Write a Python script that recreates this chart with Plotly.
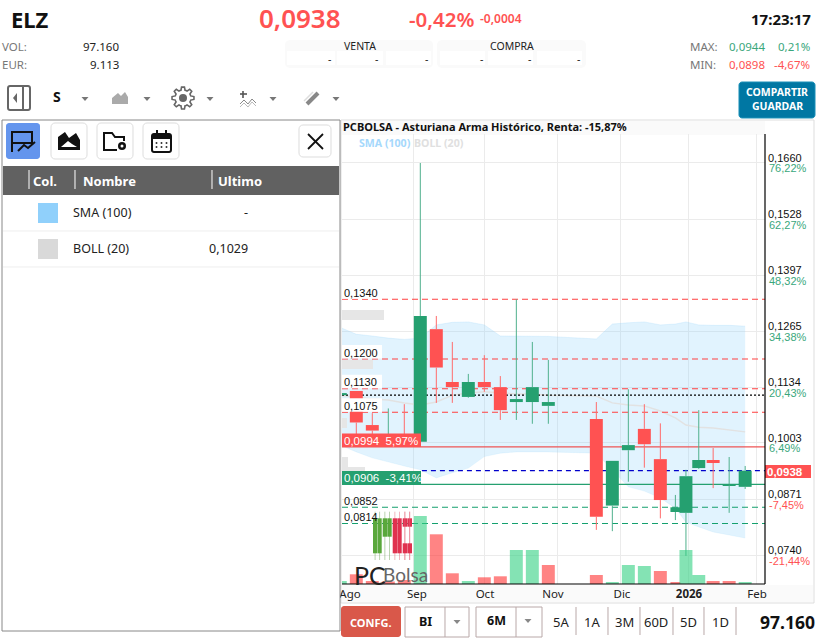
import math
import plotly.graph_objects as go

# ---------- data ----------
week_pos = [0,1,2,3,4,5,6,7,8,9,10,11,12,13,16,17,18,19,20,20.94,21.6,22.4,23.3,24.3,25.3]
open_  = [.1115,.1125,.1045,.0999,.1019,.1006,.1270,.1146,.1111,.1146,.1134,.1099,.1099,.1090,.1059,.0856,.0986,.1036,.0965,.0841,.0839,.0944,.0963,.0904,.0900]
high   = [.1120,.1125,.1073,.1084,.1094,.1660,.1301,.1240,.1165,.1209,.1160,.1340,.1240,.1198,.1099,.0961,.1129,.1094,.1049,.0881,.0940,.1080,.0991,.0970,.0949]
low    = [.1115,.1024,.1022,.0997,.0997,.1005,.1097,.1097,.1109,.1123,.1057,.1057,.1048,.1048,.0799,.0796,.0912,.0945,.0826,.0822,.0738,.0942,.0897,.0839,.0895]
close  = [.1120,.1051,.1032,.1019,.1000,.1301,.1180,.1134,.1146,.1134,.1080,.1106,.1134,.1099,.0830,.0961,.0998,.1000,.0869,.0852,.0925,.0963,.0956,.0906,.0938]
body_w = [.81]*19 + [.62] + [.81]*5
volume = [30,97,30,25,40,680,497,107,30,67,77,340,340,190,90,20,190,180,130,20,340,90,30,30,20]
vol_up = [1,0,0,0,0,1,0,0,1,0,0,1,1,0,0,1,1,1,0,0,1,1,0,0,1]
boll_up  = [.1274,.1258,.1254,.1249,.1246,.1249,.1280,.1286,.1287,.1280,.1254,.1254,.1253,.1253,.1247,.1282,.1285,.1287,.1280,.1282,.1287,.1280,.1279,.1279,.1277]
boll_mid = [.1115,.1111,.1106,.1104,.1097,.1092,.1099,.1115,.1120,.1123,.1120,.1118,.1118,.1115,.1113,.1097,.1092,.1090,.1078,.1062,.1045,.1040,.1038,.1033,.1029]
boll_low = [.0998,.0982,.0968,.0958,.0949,.0940,.0921,.0933,.0944,.0971,.0979,.0982,.0982,.0982,.0979,.0940,.0900,.0890,.0874,.0850,.0817,.0806,.0794,.0787,.0780]
resist = [.1340,.1200,.1130,.1075]
support = [.0852,.0814]
price_ticks = [.1660,.1528,.1397,.1265,.1134,.1003,.0871,.0740]
price_labels = ["0,1660","0,1528","0,1397","0,1265","0,1134","0,1003","0,0871","0,0740"]
pct_labels = ["76,22%","62,27%","48,32%","34,38%","20,43%","6,49%","-7,45%","-21,44%"]
month_labels = ["Ago","Sep","Oct","Nov","Dic","<b>2026</b>","Feb"]
month_label_pos = [.606,4.79,9.04,13.29,17.6,21.79,26.04]
month_grid_pos = [4.6,8.98,13.6,17.54,21.79,25.98]
avg_level, last_price, high_ref, low_ref = .1115,.0938,.0994,.0906

GREEN, RED = "#25a070", "#ff5252"
GWICK, RWICK = "#4fb08c", "#ff6b6b"
GRID = "#ebebeb"
UI = "Noto Sans"

X = lambda p: p/830
Y = lambda p: 1-p/643
shapes, anns = [], []

def rect(x0,y0,x1,y1,fill=None,line=None,lw=1,layer="above"):
    shapes.append(dict(type="rect",xref="paper",yref="paper",x0=X(x0),x1=X(x1),y0=Y(y0),y1=Y(y1),
        fillcolor=fill or "rgba(0,0,0,0)",line=dict(color=line or "rgba(0,0,0,0)",width=lw if line else 0),layer=layer))

def path(pts,fill=None,line=None,lw=1,close=False):
    d = "M"+" L".join(f"{X(a):.5f},{Y(b):.5f}" for a,b in pts)+(" Z" if close else "")
    shapes.append(dict(type="path",xref="paper",yref="paper",path=d,fillcolor=fill or "rgba(0,0,0,0)",
        line=dict(color=line or "rgba(0,0,0,0)",width=lw if line else 0),layer="above"))

def rrect(x0,y0,x1,y1,r=4,fill=None,line=None,lw=1):
    pts=[]
    for cx,cy,a0 in [(x1-r,y0+r,-90),(x1-r,y1-r,0),(x0+r,y1-r,90),(x0+r,y0+r,180)]:
        for k in range(5):
            a=math.radians(a0+k*22.5); pts.append((cx+r*math.cos(a),cy+r*math.sin(a)))
    path(pts,fill,line,lw,True)

def seg(x0,y0,x1,y1,color,lw=1):
    path([(x0,y0),(x1,y1)],None,color,lw)

def text(x,y,s,size=12,color="#111",anchor="left",bold=False,family=UI,weight=None,opacity=None):
    f=dict(size=size,color=color,family=family)
    if weight: f["weight"]=weight
    a=dict(xref="paper",yref="paper",x=X(x),y=Y(y),text=f"<b>{s}</b>" if bold else s,showarrow=False,
        xanchor=anchor,yanchor="middle",font=f,borderpad=0,borderwidth=0)
    if opacity: a["opacity"]=opacity
    anns.append(a)

def tri(x,y,c="#777"):
    path([(x-3.5,y-2),(x+3.5,y-2),(x,y+2)],c,None,close=True)

# ---------- header ----------
text(11,19,"ELZ",22,"#111",bold=True)
text(300,18,"0,0938",26,RED,"center",weight=600)
text(441,19,"-0,42%",20.5,RED,"center",weight=600)
text(480,19,"-0,0004",12,RED,weight=600)
text(811,19,"17:23:17",15,"#111","right",bold=True)
text(2,47,"VOL:",11.5,"#777"); text(119,47,"97.160",11.5,"#222","right")
text(2,65,"EUR:",11.5,"#777"); text(119,65,"9.113",11.5,"#222","right")
rrect(285,40,433,68,5,"#fafafa"); rrect(437,40,586,68,5,"#fafafa")
for a,b in [(287,335),(337,383),(386,431),(440,485),(488,533),(537,582)]:
    rect(a,51,b,65,"#ffffff")
text(360,46,"VENTA",10.5,"#222","center"); text(512,46,"COMPRA",10.5,"#222","center")
for x in [331,378,428,483,531,580]:
    text(x,59,"-",10.5,"#222","right")
text(690,47,"MAX:",11.5,"#777"); text(765,47,"0,0944",11.5,"#3aa77c","right"); text(810,47,"0,21%",11.5,"#3aa77c","right")
text(690,65,"MIN:",11.5,"#777"); text(765,65,"0,0898",11.5,RED,"right"); text(810,65,"-4,67%",11.5,RED,"right")
rrect(739,82,815,118,3,"#0077a3","#1a90b8")
text(777,92,"COMPARTIR",10.5,"#fff","center",bold=True); text(777,106,"GUARDAR",10.5,"#fff","center",bold=True)

# ---------- toolbar ----------
rrect(8,86,30,110,2,None,"#666",2); seg(23,87,23,109,"#666",2)
path([(17,93),(17,103),(13,98)],"#666",None,close=True)
text(57,97,"S",14,"#111","center",bold=True)
for x in [85,147,210,273,336]: tri(x,99)
path([(112,104),(112,98),(118,93),(121,96),(125,92),(128,97),(128,104)],"#aaa",None,close=True)
g=[]
for k in range(48):
    a=math.radians(k*7.5); r=11 if (k%6) in (0,1,5) else 8
    g.append((183+r*math.cos(a),98+r*math.sin(a)))
path(g,None,"#666",1.6,True)
shapes.append(dict(type="circle",xref="paper",yref="paper",x0=X(179),x1=X(187),y0=Y(94),y1=Y(102),fillcolor="#666",line=dict(width=0),layer="above"))
seg(243,91,243,98,"#555",1.6); seg(240,94,247,94,"#555",1.6)
path([(240,104),(244,100),(248,104),(252,99),(256,103)],None,"#888",1)
path([(240,107),(244,103),(248,107),(252,102),(256,106)],None,"#bbb",1)
seg(307,104,318,93,"#888",4); seg(304,101,313,92,"#ddd",1.5)

# ---------- left panel ----------
rect(2,120,340,631,"#ffffff","#888",1)
rrect(6,123,40,159,3,"#6495ed")
path([(12,152),(12,132),(32,132),(32,143),(12,143)],None,"#111",2)
path([(18,151),(24,145),(28,148),(35,142)],None,"#111",2)
for a,b in [(51,87),(97,133),(143,179)]:
    rrect(a,123,b,159,4,"#fff","#ddd")
path([(58,150),(58,137),(65,132),(69,138),(76,133),(80,140),(80,150)],"#111",None,close=True)
path([(61,147),(68,141),(72,144),(77,147)],"#fff",None,close=True)
path([(117,150),(104,150),(104,133),(112,133),(115,137),(124,137),(124,141)],None,"#111",2)
shapes.append(dict(type="circle",xref="paper",yref="paper",x0=X(118),x1=X(126),y0=Y(142),y1=Y(150),fillcolor="#111",line=dict(width=0),layer="above"))
shapes.append(dict(type="circle",xref="paper",yref="paper",x0=X(120.5),x1=X(123.5),y0=Y(144.5),y1=Y(147.5),fillcolor="#fff",line=dict(width=0),layer="above"))
rrect(152,134,171,152,2,None,"#111",2); rect(152,134,171,139,"#111")
seg(157,130,157,135,"#111",2); seg(166,130,166,135,"#111",2)
for yy in [143,147]:
    for xx in [156.5,161.5,166.5]:
        rect(xx-.8,yy-.8,xx+.8,yy+.8,"#111")
rrect(299,125,331,157,4,"#fff","#ddd")
seg(308,134,323,149,"#111",1.8); seg(323,134,308,149,"#111",1.8)
rect(3,166,339,195,"#616161")
for x in [29,75,212]: seg(x,170,x,189,"#fff",1)
text(33,181,"Col.",13,"#fff",bold=True); text(83,181,"Nombre",13,"#fff",bold=True); text(218,181,"Ultimo",13,"#fff",bold=True)
rect(38,203,58,223,"#90d0fb"); rect(38,239,58,259,"#d9d9d9")
text(73,212,"SMA (100)",12.5,"#222"); text(73,248,"BOLL (20)",12.5,"#222")
text(248,212,"-",12.5,"#222","right"); text(248,248,"0,1029",12.5,"#222","right")
seg(3,231,339,231,"#eee"); seg(3,267,339,267,"#eee")

# ---------- chart frame / strips (below traces) ----------
rect(341,120,814,603,"#ffffff","#dddddd",1,layer="below")
rect(342,121,765,135,"#fafafa",layer="below")
rect(342,585,813,602,"#fafafa",layer="below")
text(343,127,"PCBOLSA - Asturiana Arma Histórico, Renta: -15,87%",11,"#111",bold=True)
text(359,143,"SMA (100)",10.6,"#a5d8fc",bold=True)
text(414,143,"BOLL (20)",10.6,"#e0e0e0",bold=True)

fig = go.Figure()
# band, mid line and level lines on the base axis
fig.add_trace(go.Scatter(x=week_pos,y=boll_low,mode="lines",line=dict(width=.5,color="rgba(135,206,250,.25)"),hoverinfo="skip"))
fig.add_trace(go.Scatter(x=week_pos,y=boll_up,mode="lines",line=dict(width=1,color="rgba(135,206,250,.2)"),fill="tonexty",fillcolor="rgba(135,206,250,.25)",hoverinfo="skip"))
fig.add_trace(go.Scatter(x=week_pos,y=boll_mid,mode="lines",line=dict(width=1.5,color="#e2e2e2"),hoverinfo="skip"))
def level(v,color,dash,w=1,x0=0.106):
    fig.add_trace(go.Scatter(x=[x0,26.54],y=[v,v],mode="lines",line=dict(color=color,dash=dash,width=w),hoverinfo="skip"))
for v in resist: level(v,"#ff4040","6px,4px",1.05)
for v in support: level(v,"#14a06e","6px,4px",1.05)
level(avg_level,"#000","2px,2px",1.2)
level(last_price,"#0000cc","5px,4px",1.2,5.1)
level(high_ref,"#ee5555","solid",1.2)
level(low_ref,"#25a070","solid",1.2)

# candles on an overlay axis
bx,by,bb,bc=[],[],[],[]
wg_x,wg_y,wr_x,wr_y=[],[],[],[]
for p,o,h,l,c in zip(week_pos,open_,high,low,close):
    up=c>=o
    wx,wy=(wg_x,wg_y) if up else (wr_x,wr_y)
    wx+= [p,p,None,p,p,None]; wy+=[h,max(o,c),None,min(o,c),l,None]
    bb.append(min(o,c)); by.append(abs(c-o)); bc.append(GREEN if up else RED)
fig.add_trace(go.Scatter(x=wg_x,y=wg_y,yaxis="y2",mode="lines",line=dict(color=GWICK,width=1),hoverinfo="skip",connectgaps=False))
fig.add_trace(go.Scatter(x=wr_x,y=wr_y,yaxis="y2",mode="lines",line=dict(color=RWICK,width=1),hoverinfo="skip",connectgaps=False))
fig.add_trace(go.Bar(x=week_pos,y=by,base=bb,width=body_w,yaxis="y2",marker=dict(color=bc,line=dict(width=0)),hoverinfo="skip"))
# volume
fig.add_trace(go.Bar(x=week_pos,y=volume,width=body_w,yaxis="y3",
    marker=dict(color=["rgba(50,208,130,.6)" if u else "rgba(255,50,50,.6)" for u in vol_up],line=dict(width=0)),hoverinfo="skip"))

yr=[.0672,.1728]
# level label boxes
for v,s in zip(resist+support,["0,1340","0,1200","0,1130","0,1075","0,0852","0,0814"]):
    yp=163+(0.1660-v)/.00023469
    if v>.09: rect(342,yp-14,382,yp-.5,"#fff")
    text(344,yp-6.5,s,11,"#111",family="Liberation Sans")
# gray stubs
for a,b,c,d in [(342,310,384,320),(342,360,373,369),(342,418,347,428),(342,457,348,467),(342,467,365,471)]:
    rect(a,b,c,d,"#e6e6e6")
rect(342,433.5,421,447,RED)
text(344,441,"0,0994&nbsp;&nbsp;5,97%",11.5,"#fff",family="Liberation Sans")
rect(342,471,421,484,GREEN)
text(344,478,"0,0906&nbsp;&nbsp;-3,41%",11.5,"#fff",family="Liberation Sans")
rect(765,465,811,478,RED)
text(767,472,"<b>0,0938</b>",11.5,"#fff",family="Liberation Sans")
# percentage labels under price ticks
for v,s in zip(price_ticks,pct_labels):
    anns.append(dict(xref="paper",yref="y",x=X(767),y=v,text=s,showarrow=False,xanchor="left",yanchor="middle",yshift=-5.5,
        font=dict(size=11,family="Liberation Sans",color="#3aa77c" if not s.startswith("-") else RED)))

# axis lines
shapes.append(dict(type="line",xref="paper",yref="paper",x0=X(765),x1=X(765),y0=Y(134),y1=Y(584),line=dict(color="#000",width=1.2),layer="above"))
shapes.append(dict(type="line",xref="paper",yref="paper",x0=X(342),x1=X(765),y0=Y(584),y1=Y(584),line=dict(color="#000",width=1.2),layer="above"))

# watermark
for a,b,t,bt,col in [(373,377.2,518.3,553.3,"#5aa83c"),(377.5,381.7,518.3,553.3,"#5aa83c"),(382.7,387,518.3,536.7,"#5aa83c"),(387.3,391.7,518.3,536.7,"#5aa83c"),
                     (392.7,397,518.3,553.3,"#e0314f"),(397.3,401.7,518.3,553.3,"#e0314f"),(402.7,407,518.3,526.7,"#e0314f"),(407.3,412,518.3,526.7,"#e0314f"),
                     (402.7,407,543.3,553.3,"#e0314f"),(407.3,412,543.3,553.3,"#e0314f")]:
    seg((a+b)/2,511.7,(a+b)/2,560,"rgba(120,170,100,.5)" if col=="#5aa83c" else "rgba(230,110,130,.5)",1)
    rect(a,t,b,bt,col)
text(354,575,"PC",25,"#222",family="Lato")
text(383,574,"Bolsa",19,"#666",family="Lato")

# ---------- bottom bar ----------
rrect(341,606,401,637,3,"#d9584a")
text(371,622,"CONFG.",11,"#fff","center",bold=True)
BD="#b9a8a8"
rect(405,607,469,637,None,BD,1); seg(445,607,445,637,BD)
text(425,621,"BI",12.5,"#111","center",bold=True); tri(457,622,"#888")
rect(476,607,542,637,None,BD,1); seg(516,607,516,637,BD)
text(496,620,"6M",12.5,"#111","center",bold=True); tri(528,621,"#888")
for c,s in zip([561,592,624,656,688,720],["5A","1A","3M","60D","5D","1D"]):
    text(c,622,s,13,"#222","center")
for x in [576,608,640,673,704,736]: seg(x,607,x,635,BD)
text(815,622,"97.160",17.5,"#111","right",bold=True)

axis_common=dict(range=yr,domain=[Y(584),Y(134)],showgrid=False,showline=False,zeroline=False)
fig.update_layout(
    width=830,height=643,autosize=False,margin=dict(l=0,r=0,t=0,b=0,pad=0,autoexpand=False),
    paper_bgcolor="#fff",plot_bgcolor="rgba(0,0,0,0)",showlegend=False,barmode="overlay",
    shapes=shapes,annotations=anns,hovermode=False,
    xaxis=dict(domain=[X(342),X(765)],range=[.106,26.54],tickmode="array",tickvals=month_label_pos,ticktext=month_labels,
        showgrid=False,zeroline=False,showline=False,ticks="",ticklabelstandoff=1,
        tickfont=dict(size=11.5,color="#222",family=UI),
        minor=dict(tickmode="array",tickvals=month_grid_pos,showgrid=True,gridcolor=GRID,gridwidth=1,ticks="")),
    yaxis=dict(**{**axis_common,"showgrid":True},side="right",tickmode="array",tickvals=price_ticks,ticktext=price_labels,
        gridcolor=GRID,gridwidth=1,ticks="",ticklabelstandoff=2,ticklabelshift=-5,
        tickfont=dict(size=11,color="#111",family="Liberation Sans")),
    yaxis2=dict(**axis_common,overlaying="y",side="right",showticklabels=False),
    yaxis3=dict(range=[0,4500],domain=[Y(584),Y(134)],overlaying="y",side="right",showgrid=False,showline=False,zeroline=False,showticklabels=False),
)
fig.write_html("out.html",config=dict(displayModeBar=False),
    post_script="document.body.style.margin='0';document.documentElement.style.overflow='hidden';")
